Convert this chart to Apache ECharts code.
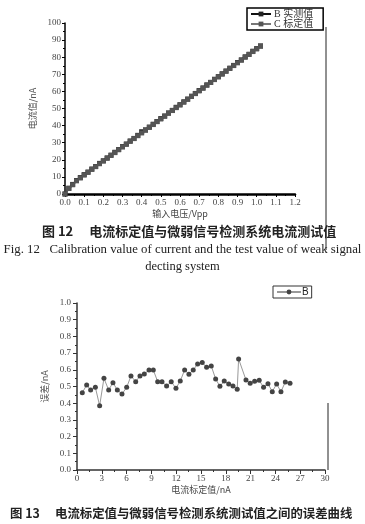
<!DOCTYPE html>
<html><head><meta charset="utf-8">
<script src="https://cdn.jsdelivr.net/npm/echarts@6/dist/echarts.min.js"></script>
<style>html,body{margin:0;padding:0;background:#fff}#c{width:365px;height:524px}</style>
</head><body><div id="c"></div>
<script>
// Fig.12 data: input voltage (Vpp) vs current (nA)
var voltX = [0.00,0.02,0.04,0.06,0.08,0.10,0.12,0.14,0.16,0.18,0.20,0.22,0.24,0.26,0.28,0.30,0.32,0.34,0.36,0.38,0.40,0.42,0.44,0.46,0.48,0.50,0.52,0.54,0.56,0.58,0.60,0.62,0.64,0.66,0.68,0.70,0.72,0.74,0.76,0.78,0.80,0.82,0.84,0.86,0.88,0.90,0.92,0.94,0.96,0.98,1.00,1.02];
var measuredB = [0.0,3.4,5.6,7.9,9.6,11.3,12.8,14.6,16.1,17.9,19.4,21.1,22.7,24.4,26.0,27.7,29.2,31.0,32.5,34.3,36.4,37.5,39.1,40.8,42.4,44.1,45.6,47.4,48.9,50.7,52.2,53.9,55.5,57.2,58.8,60.5,62.0,63.8,65.3,67.1,68.6,70.3,71.9,73.6,75.2,76.9,78.4,80.2,81.7,83.5,85.0,86.6];
var calibC = [0.0,3.2,5.4,7.7,9.4,11.1,12.7,14.4,16.0,17.7,19.3,20.9,22.6,24.2,25.9,27.5,29.1,30.8,32.4,34.1,35.7,37.3,39.0,40.6,42.3,43.9,45.5,47.2,48.8,50.5,52.1,53.7,55.4,57.0,58.7,60.3,61.9,63.6,65.2,66.9,68.5,70.1,71.8,73.4,75.1,76.7,78.3,80.0,81.6,83.3,84.9,86.4];
var legend12 = ['B 实测值', 'C 标定值'];

// Fig.13 data: calibration current (nA) vs error (nA)
var calibNA = [0.64,1.17,1.65,2.22,2.74,3.26,3.83,4.35,4.88,5.44,6.01,6.53,7.10,7.62,8.14,8.71,9.23,9.76,10.28,10.84,11.40,11.97,12.49,13.02,13.54,14.06,14.59,15.15,15.68,16.24,16.77,17.29,17.81,18.35,18.87,19.38,19.55,20.44,20.95,21.49,22.04,22.57,23.10,23.62,24.15,24.67,25.20,25.77];
var errB = [0.463,0.509,0.479,0.495,0.385,0.549,0.479,0.523,0.479,0.455,0.495,0.563,0.529,0.563,0.575,0.599,0.599,0.529,0.529,0.503,0.529,0.489,0.533,0.599,0.573,0.599,0.635,0.643,0.615,0.623,0.545,0.501,0.533,0.515,0.503,0.483,0.665,0.539,0.519,0.531,0.537,0.495,0.517,0.469,0.515,0.469,0.527,0.519];

var cap12 = '图 12　 电流标定值与微弱信号检测系统电流测试值';
var cap12en1 = 'Fig. 12   Calibration value of current and the test value of weak signal';
var cap12en2 = 'decting system';
var cap13 = '图 13　 电流标定值与微弱信号检测系统测试值之间的误差曲线';

function zip(a, b) { return a.map(function (v, i) { return [v, b[i]]; }); }

var serif = 'Liberation Serif, Noto Sans CJK SC, serif';
var cjk = 'Noto Sans CJK SC, sans-serif';
var lbl = { color: '#444', fontSize: 9, fontFamily: serif };

var chart = echarts.init(document.getElementById('c'), null, { renderer: 'canvas' });
chart.setOption({
  animation: false,
  backgroundColor: '#fff',
  grid: [
    { left: 65, top: 23, width: 230, height: 171 },
    { left: 77, top: 303, width: 248, height: 167 }
  ],
  legend: [
    { data: legend12, orient: 'vertical', left: 247, top: 8, itemWidth: 20, itemHeight: 6, itemGap: 0,
      padding: [1, 10, 1, 3], borderColor: '#000', borderWidth: 1.5,
      textStyle: { fontSize: 10, fontFamily: serif, color: '#333', padding: [0, 0, 0, -2] } },
    { data: ['B'], left: 273, top: 286, itemWidth: 24, itemHeight: 6, padding: [1, 3, 1, 3],
      borderColor: '#333', borderWidth: 1,
      textStyle: { fontSize: 10, fontFamily: 'Liberation Sans, sans-serif', color: '#222', padding: [0, 0, 0, -4] } }
  ],
  xAxis: [
    { gridIndex: 0, type: 'value', min: 0, max: 1.2, interval: 0.1,
      name: '输入电压/Vpp', nameLocation: 'middle', nameGap: 15,
      nameTextStyle: { fontSize: 9, fontFamily: cjk, color: '#444' },
      axisLine: { lineStyle: { color: '#000', width: 2.5 } },
      axisTick: { length: 3, lineStyle: { color: '#000', width: 1 } },
      minorTick: { show: true, splitNumber: 2, length: 2, lineStyle: { color: '#000' } },
      splitLine: { show: false },
      axisLabel: Object.assign({ margin: 4, formatter: function (v) { return v.toFixed(1); } }, lbl) },
    { gridIndex: 1, type: 'value', min: 0, max: 30, interval: 3,
      name: '电流标定值/nA', nameLocation: 'middle', nameGap: 15,
      nameTextStyle: { fontSize: 9, fontFamily: cjk, color: '#444' },
      axisLine: { lineStyle: { color: '#333', width: 1.5 } },
      axisTick: { length: 4, lineStyle: { color: '#333' } },
      minorTick: { show: true, splitNumber: 2, length: 2, lineStyle: { color: '#333' } },
      splitLine: { show: false },
      axisLabel: Object.assign({ margin: 4 }, lbl) }
  ],
  yAxis: [
    { gridIndex: 0, type: 'value', min: 0, max: 100, interval: 10,
      name: '电流值/nA', nameLocation: 'middle', nameGap: 15,
      nameTextStyle: { fontSize: 9, fontFamily: cjk, color: '#555' },
      axisLine: { lineStyle: { color: '#000', width: 1.5 } },
      axisTick: { length: 3, lineStyle: { color: '#000' } },
      minorTick: { show: true, splitNumber: 2, length: 2, lineStyle: { color: '#000' } },
      splitLine: { show: false },
      axisLabel: Object.assign({ margin: 4 }, lbl) },
    { gridIndex: 1, type: 'value', min: 0, max: 1, interval: 0.1,
      name: '误差/nA', nameLocation: 'middle', nameGap: 26,
      nameTextStyle: { fontSize: 9, fontFamily: cjk, color: '#555' },
      axisLine: { lineStyle: { color: '#333', width: 1.5 } },
      axisTick: { length: 4, lineStyle: { color: '#333' } },
      minorTick: { show: true, splitNumber: 2, length: 2, lineStyle: { color: '#333' } },
      splitLine: { show: false },
      axisLabel: Object.assign({ margin: 6, formatter: function (v) { return v.toFixed(1); } }, lbl) }
  ],
  series: [
    { name: legend12[0], type: 'line', xAxisIndex: 0, yAxisIndex: 0, data: zip(voltX, measuredB),
      symbol: 'rect', symbolSize: 5, itemStyle: { color: '#222' }, lineStyle: { color: '#111', width: 2 } },
    { name: legend12[1], type: 'line', xAxisIndex: 0, yAxisIndex: 0, data: zip(voltX, calibC),
      symbol: 'rect', symbolSize: 5, itemStyle: { color: '#555' }, lineStyle: { color: '#777', width: 2 } },
    { name: 'B', type: 'line', xAxisIndex: 1, yAxisIndex: 1, data: zip(calibNA, errB),
      symbol: 'circle', symbolSize: 5, itemStyle: { color: '#444' }, lineStyle: { color: '#999', width: 1 } }
  ],
  graphic: [
    { type: 'line', shape: { x1: 326, y1: 27, x2: 326, y2: 250 }, style: { stroke: '#222', lineWidth: 1 } },
    { type: 'line', shape: { x1: 328, y1: 403, x2: 328, y2: 470 }, style: { stroke: '#222', lineWidth: 1 } },
    { type: 'text', left: 42, top: 225, style: { text: cap12, fontSize: 13, fontWeight: 'bold', fontFamily: cjk, fill: '#222' } },
    { type: 'text', left: 'center', top: 243, style: { text: cap12en1, fontSize: 12.8, fontFamily: serif, fill: '#222' } },
    { type: 'text', left: 'center', top: 260, style: { text: cap12en2, fontSize: 12.5, fontFamily: serif, fill: '#222' } },
    { type: 'text', left: 10, top: 507, style: { text: cap13, fontSize: 12.4, fontWeight: 'bold', fontFamily: cjk, fill: '#222' } }
  ]
});
</script></body></html>
